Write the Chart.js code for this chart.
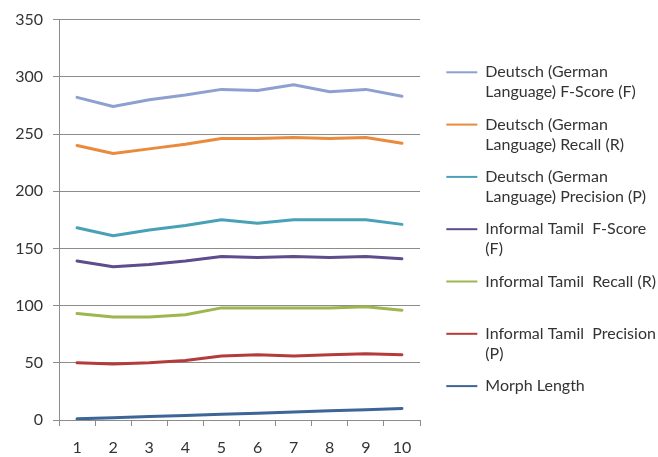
<!DOCTYPE html>
<html>
<head>
<meta charset="utf-8">
<script src="https://cdn.jsdelivr.net/npm/chart.js@4/dist/chart.umd.min.js"></script>
<style>
  html, body { margin: 0; padding: 0; background: #ffffff; }
  #wrap { width: 658px; height: 457px; position: relative; }
</style>
</head>
<body>
<div id="wrap"><canvas id="chart"></canvas></div>
<script>
// Category labels along the x axis
const categories = ['1', '2', '3', '4', '5', '6', '7', '8', '9', '10'];

// Series values
const deutschF = [282, 274, 280, 284, 289, 288, 293, 287, 289, 283];
const deutschR = [240, 233, 237, 241, 246, 246, 247, 246, 247, 242];
const deutschP = [168, 161, 166, 170, 175, 172, 175, 175, 175, 171];
const tamilF   = [139, 134, 136, 139, 143, 142, 143, 142, 143, 141];
const tamilR   = [93, 90, 90, 92, 98, 98, 98, 98, 99, 96];
const tamilP   = [50, 49, 50, 52, 56, 57, 56, 57, 58, 57];
const morphLen = [1, 2, 3, 4, 5, 6, 7, 8, 9, 10];

// Series names, split into the lines shown in the legend
const seriesNames = [
  ['Deutsch (German', 'Language) F-Score (F)'],
  ['Deutsch (German', 'Language) Recall (R)'],
  ['Deutsch (German', 'Language) Precision (P)'],
  ['Informal Tamil  F-Score', '(F)'],
  ['Informal Tamil  Recall (R)', ''],
  ['Informal Tamil  Precision', '(P)'],
  ['Morph Length', '']
];
const seriesValues = [deutschF, deutschR, deutschP, tamilF, tamilR, tamilP, morphLen];
const seriesColors = ['#8DA0CF', '#E98A3C', '#48A1B7', '#5E4C8C', '#9CB650', '#B33C3A', '#3D6597'];

// Y axis range
const yMin = 0, yMax = 350, yStep = 50;

const FONT = 'Lato, "Open Sans", sans-serif';
const GRID = '#8c8c8c';

// Nudges the legend block away from the plot area
const legendOffset = {
  id: 'legendOffset',
  afterLayout(chart) {
    const lg = chart.legend;
    if (!lg) return;
    const dx = 14, dy = 36;
    lg.left += dx; lg.right += dx;
    lg.top += dy; lg.bottom += dy;
  }
};

new Chart(document.getElementById('chart'), {
  type: 'line',
  data: {
    labels: categories,
    datasets: seriesValues.map((vals, i) => ({
      label: seriesNames[i].filter(s => s).join(' '),
      data: vals,
      borderColor: seriesColors[i],
      backgroundColor: seriesColors[i],
      borderWidth: 3,
      pointRadius: 0,
      tension: 0,
      fill: false,
      borderJoinStyle: 'round',
      borderCapStyle: 'round'
    }))
  },
  options: {
    responsive: true,
    maintainAspectRatio: false,
    animation: false,
    devicePixelRatio: 1,
    layout: { padding: { top: 16, left: 15, right: 6, bottom: 0 } },
    plugins: {
      tooltip: { enabled: false },
      legend: {
        position: 'right',
        align: 'start',
        maxWidth: 260,
        labels: {
          boxWidth: 31,
          boxHeight: 2,
          padding: 12.3,
          color: '#333333',
          font: { family: FONT, size: 16, lineHeight: 1.25 },
          generateLabels(chart) {
            const items = Chart.defaults.plugins.legend.labels.generateLabels(chart);
            items.forEach((it, i) => {
              it.text = seriesNames[i];
              it.lineWidth = 0;
              it.fillStyle = seriesColors[i];
            });
            return items;
          }
        }
      }
    },
    scales: {
      x: {
        offset: true,
        border: { color: GRID, width: 1 },
        grid: {
          offset: true,
          drawOnChartArea: false,
          drawTicks: true,
          tickLength: 6,
          color: GRID
        },
        ticks: {
          color: '#333333',
          padding: 12,
          maxRotation: 0,
          font: { family: FONT, size: 16 }
        },
        afterFit(scale) { scale.height = 37; }
      },
      y: {
        min: yMin,
        max: yMax,
        border: { color: GRID, width: 1 },
        grid: {
          color: GRID,
          drawTicks: true,
          tickLength: 6
        },
        ticks: {
          stepSize: yStep,
          color: '#333333',
          padding: 10,
          font: { family: FONT, size: 16 }
        },
        afterFit(scale) { scale.width = 44; }
      }
    }
  },
  plugins: [legendOffset]
});
</script>
</body>
</html>
